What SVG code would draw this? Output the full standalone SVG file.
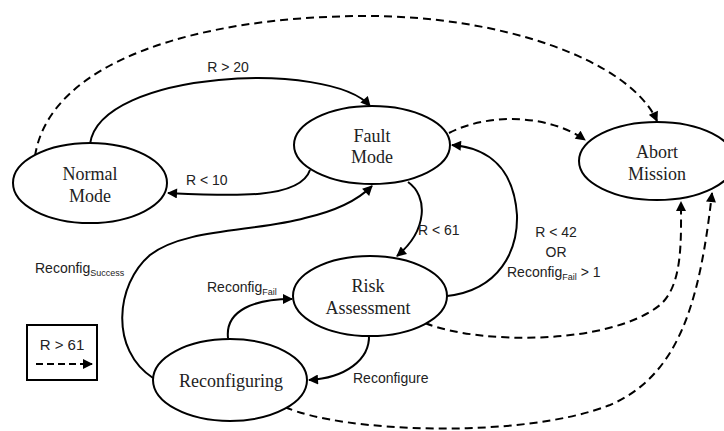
<svg xmlns="http://www.w3.org/2000/svg" width="724" height="431" viewBox="0 0 724 431">
<defs>
<marker id="ah" viewBox="0 0 10 10" refX="9" refY="5" markerWidth="11" markerHeight="10" orient="auto" markerUnits="userSpaceOnUse"><path d="M0,0 L10,5 L0,10 z" fill="#000"/></marker>
<style>
.node{fill:#fff;stroke:#000;stroke-width:2}
.nt{font-family:"Liberation Serif","Times New Roman",serif;font-size:18px;fill:#222;text-anchor:middle}
.lb{font-family:"Liberation Sans",Arial,sans-serif;font-size:14px;fill:#222}
.sub{font-size:9px}
.e{fill:none;stroke:#000;stroke-width:2;marker-end:url(#ah)}
.d{stroke-dasharray:8 5}
</style>
</defs>
<rect width="724" height="431" fill="#fff"/>
<g id="connectors">
<path class="e" d="M90,144 C100,70 330,60 370,106"/>
<path class="e" d="M310,170 C300,200 230,196 168,193"/>
<path class="e d" d="M35,156 C50,60 200,17 362,16 C500,15 630,60 657,121"/>
<path class="e d" d="M449,133 C490,112 550,115 585,140"/>
<path class="e" d="M408,182 C428,196 428,230 397,256"/>
<path class="e" d="M447,296 C500,290 518,250 517,215 C514,170 490,148 452,145"/>
<path class="e d" d="M425,323 C480,345 610,345 660,305 C683,285 681,240 681,202"/>
<path class="e d" d="M285,407 C340,432 520,440 610,405 C680,375 700,300 712,193"/>
<path class="e" d="M153,378 C110,350 115,285 150,255 C185,228 255,232 305,218 C340,210 360,198 372,186"/>
<path class="e" d="M228,338 C225,310 255,299 292,299"/>
<path class="e" d="M369,335 C370,360 345,378 309,380"/>
</g>
<g id="normal"><ellipse class="node" cx="90" cy="183" rx="77" ry="40"/><text class="nt" x="90" y="180">Normal</text><text class="nt" x="90" y="202">Mode</text></g>
<g id="fault"><ellipse class="node" cx="372" cy="145" rx="78" ry="39"/><text class="nt" x="372" y="142">Fault</text><text class="nt" x="372" y="163">Mode</text></g>
<g id="abort"><ellipse class="node" cx="657" cy="161" rx="78" ry="39"/><text class="nt" x="657" y="158">Abort</text><text class="nt" x="657" y="180">Mission</text></g>
<g id="risk"><ellipse class="node" cx="370" cy="296" rx="77" ry="40"/><text class="nt" x="368" y="292">Risk</text><text class="nt" x="368" y="314">Assessment</text></g>
<g id="reconfiguring"><ellipse class="node" cx="230" cy="380" rx="77" ry="41"/><text class="nt" x="231" y="387">Reconfiguring</text></g>
<g id="labels">
<text class="lb" x="228" y="72" text-anchor="middle">R &gt; 20</text>
<text class="lb" x="186" y="185">R &lt; 10</text>
<text class="lb" x="418" y="235">R &lt; 61</text>
<text class="lb" x="556" y="237" text-anchor="middle">R &lt; 42</text>
<text class="lb" x="556" y="257" text-anchor="middle">OR</text>
<text class="lb" x="507" y="277">Reconfig<tspan class="sub" dy="3">Fail</tspan><tspan dy="-3"> &gt; 1</tspan></text>
<text class="lb" x="353" y="383">Reconfigure</text>
<text class="lb" x="35" y="273">Reconfig<tspan class="sub" dy="3">Success</tspan></text>
<text class="lb" x="207" y="292">Reconfig<tspan class="sub" dy="3">Fail</tspan></text>
</g>
<g id="legend">
<rect x="27" y="325" width="70" height="55" fill="#fff" stroke="#000" stroke-width="2"/>
<text class="lb" x="62" y="350" text-anchor="middle" style="font-size:15px">R &gt; 61</text>
<path d="M36,364 L92,364" fill="none" stroke="#000" stroke-width="2" stroke-dasharray="7 4" marker-end="url(#ah)"/>
</g>
</svg>
